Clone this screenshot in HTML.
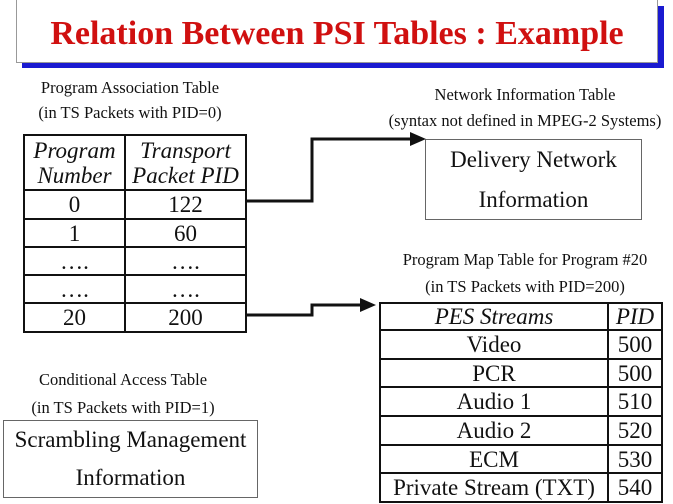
<!DOCTYPE html>
<html><head><style>
body{margin:0;width:673px;height:504px;background:#fff;position:relative;overflow:hidden;font-family:"Liberation Serif",serif;color:#111}
.a{position:absolute}
.lbl{position:absolute;font-size:16.5px;text-align:center;white-space:nowrap}
table{border-collapse:collapse;position:absolute}
td{border:2.5px solid #111;text-align:center;padding:0;font-size:23px;line-height:1}
</style></head><body>
<div class="a" style="left:22px;top:6px;width:642px;height:62px;background:#1a1ad0"></div>
<div class="a" style="left:16px;top:-2px;width:640px;height:63px;background:#fff;border:1px solid #999"></div>
<div class="a" style="left:16px;top:15px;width:642px;text-align:center;color:#d01010;font-weight:bold;font-size:34px">Relation Between PSI Tables : Example</div>

<div class="lbl" style="left:10px;top:78px;width:240px">Program Association Table</div>
<div class="lbl" style="left:10px;top:103px;width:240px">(in TS Packets with PID=0)</div>
<div class="lbl" style="left:380px;top:85px;width:290px">Network Information Table</div>
<div class="lbl" style="left:380px;top:111px;width:290px">(syntax not defined in MPEG-2 Systems)</div>
<div class="lbl" style="left:380px;top:250px;width:290px">Program Map Table for Program #20</div>
<div class="lbl" style="left:380px;top:277px;width:290px">(in TS Packets with PID=200)</div>
<div class="lbl" style="left:3px;top:370px;width:240px">Conditional Access Table</div>
<div class="lbl" style="left:3px;top:398px;width:240px">(in TS Packets with PID=1)</div>

<table style="left:23px;top:134px;width:224px">
<tr style="height:55px"><td style="width:99px;font-style:italic;line-height:25px">Program<br>Number</td><td style="font-style:italic;line-height:25px">Transport<br>Packet PID</td></tr>
<tr style="height:29px"><td>0</td><td>122</td></tr>
<tr style="height:28px"><td>1</td><td>60</td></tr>
<tr style="height:28px"><td>….</td><td>….</td></tr>
<tr style="height:28px"><td>….</td><td>….</td></tr>
<tr style="height:29px"><td>20</td><td>200</td></tr>
</table>

<div class="a" style="left:425px;top:139px;width:215px;height:79px;border:1px solid #666;font-size:23px;text-align:center;line-height:40px">Delivery Network<br>Information</div>

<table style="left:379px;top:302px;width:284px">
<tr style="height:27px"><td style="font-style:italic">PES Streams</td><td style="width:52px;font-style:italic">PID</td></tr>
<tr style="height:29px"><td>Video</td><td>500</td></tr>
<tr style="height:28px"><td>PCR</td><td>500</td></tr>
<tr style="height:29px"><td>Audio 1</td><td>510</td></tr>
<tr style="height:29px"><td>Audio 2</td><td>520</td></tr>
<tr style="height:28px"><td>ECM</td><td>530</td></tr>
<tr style="height:29px"><td>Private Stream (TXT)</td><td>540</td></tr>
</table>

<div class="a" style="left:3px;top:420px;width:253px;height:76px;border:1px solid #666;font-size:23px;text-align:center;line-height:38px">Scrambling Management<br>Information</div>

<svg class="a" style="left:0;top:0" width="673" height="504">
<polyline points="246,201 312,201 312,139 412,139" fill="none" stroke="#111" stroke-width="3"/>
<polygon points="426,139 410,132 410,146" fill="#111"/>
<polyline points="246,315 312,315 312,305 362,305" fill="none" stroke="#111" stroke-width="3"/>
<polygon points="376,305 360,298 360,312" fill="#111"/>
</svg>
</body></html>
